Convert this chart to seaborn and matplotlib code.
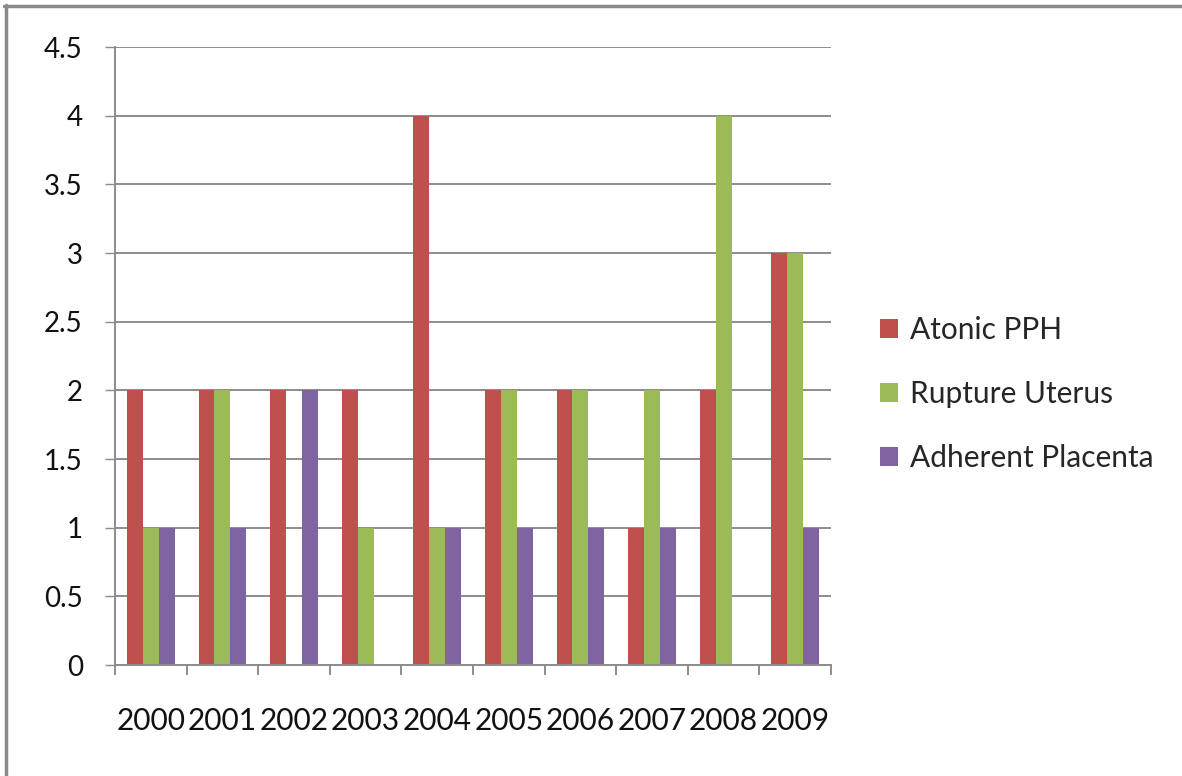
import matplotlib
matplotlib.use("Agg")
import matplotlib.pyplot as plt
from matplotlib.lines import Line2D
from matplotlib.ticker import FixedLocator, MultipleLocator, FuncFormatter
import numpy as np
import pandas as pd
import seaborn as sns

years = ["2000", "2001", "2002", "2003", "2004", "2005", "2006", "2007", "2008", "2009"]
atonic_pph = [2, 2, 2, 2, 4, 2, 2, 1, 2, 3]
rupture_uterus = [1, 2, 0, 1, 1, 2, 2, 2, 4, 3]
adherent_placenta = [1, 1, 2, 0, 1, 1, 1, 1, 0, 1]
series_names = ["Atonic PPH", "Rupture Uterus", "Adherent Placenta"]
series_colors = ["#C0504D", "#9BBB59", "#8064A2"]

df = pd.DataFrame({
    "Year": years * 3,
    "Cause": [series_names[0]] * 10 + [series_names[1]] * 10 + [series_names[2]] * 10,
    "Cases": atonic_pph + rupture_uterus + adherent_placenta,
})

sns.set_theme(style="white")
plt.rcParams["font.family"] = ["Lato", "DejaVu Sans"]

fig = plt.figure(figsize=(11.82, 7.76), dpi=100)
ax = fig.add_axes([115 / 1182, 111 / 776, 716 / 1182, 618 / 776])

sns.barplot(data=df, x="Year", y="Cases", hue="Cause", order=years,
            hue_order=series_names, palette=series_colors, width=0.667,
            linewidth=0, saturation=1, ax=ax, legend=True)

grid_c = "#8C8C8C"
ax.set_ylim(0, 4.5)
ax.set_xlim(-0.5, len(years) - 0.5)
ax.yaxis.set_major_locator(MultipleLocator(0.5))
ax.yaxis.set_major_formatter(FuncFormatter(lambda v, p: f"{v:g}"))
ax.yaxis.grid(True, color=grid_c, linewidth=1.4)
ax.set_axisbelow(True)

for side in ["top", "right"]:
    ax.spines[side].set_visible(False)
for side in ["left", "bottom"]:
    ax.spines[side].set_color(grid_c)
    ax.spines[side].set_linewidth(1.4)

ax.tick_params(axis="y", which="major", length=7.2, width=1.0, color=grid_c,
               pad=16, labelsize=20, labelcolor="#111111", left=True)
ax.tick_params(axis="x", which="major", length=0, pad=30, labelsize=21.5,
               labelcolor="#111111")
ax.xaxis.set_minor_locator(FixedLocator(np.arange(-0.5, len(years), 1.0)))
ax.tick_params(axis="x", which="minor", length=7.2, width=1.4, color=grid_c,
               bottom=True)
ax.set_xlabel("")
ax.set_ylabel("")

handles, labels = ax.get_legend_handles_labels()
ax.legend(handles, labels, loc="center left", bbox_to_anchor=(880 / 1182, 1 - 394 / 776),
          bbox_transform=fig.transFigure, frameon=False, fontsize=21.5,
          handlelength=0.6, handleheight=0.6, handletextpad=0.4,
          labelspacing=1.2, borderpad=0, borderaxespad=0)

# frame edges along the top and left of the figure
fig.add_artist(Line2D([4 / 1182, 1], [1 - 6 / 776, 1 - 6 / 776], color="#8A8A8A",
                      linewidth=2.5, transform=fig.transFigure))
fig.add_artist(Line2D([5.5 / 1182, 5.5 / 1182], [0, 1 - 5 / 776], color="#8A8A8A",
                      linewidth=2.5, transform=fig.transFigure))

fig.savefig("out.png", dpi=100, facecolor="white")
